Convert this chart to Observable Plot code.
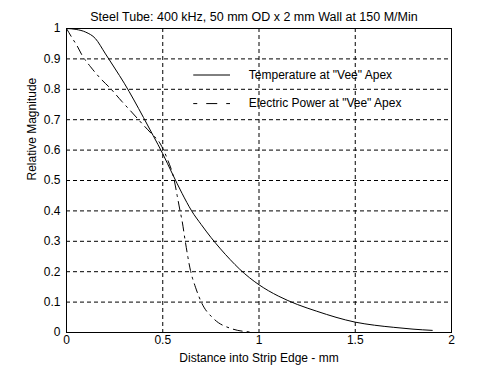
<!DOCTYPE html>
<html>
<head>
<meta charset="utf-8">
<script src="https://cdn.jsdelivr.net/npm/d3@7"></script>
<script src="https://cdn.jsdelivr.net/npm/@observablehq/plot@0.6"></script>
<style>
  html, body { margin: 0; padding: 0; background: #fff; }
</style>
</head>
<body>
<div id="chart"></div>
<script>
const titleText = "Steel Tube: 400 kHz, 50 mm OD x 2 mm Wall at 150 M/Min";
const xLabel = "Distance into Strip Edge - mm";
const yLabel = "Relative Magnitude";

const xTicks = [0, 0.5, 1, 1.5, 2];
const xTickLabels = ["0", "0.5", "1", "1.5", "2"];
const yTicks = [0, 0.1, 0.2, 0.3, 0.4, 0.5, 0.6, 0.7, 0.8, 0.9, 1];
const yTickLabels = ["0", "0.1", "0.2", "0.3", "0.4", "0.5", "0.6", "0.7", "0.8", "0.9", "1"];

const seriesNames = ["Temperature at \"Vee\" Apex", "Electric Power at \"Vee\" Apex"];

// Temperature at "Vee" apex
const tempX = [0, 0.05, 0.1, 0.15, 0.2, 0.25, 0.3, 0.35, 0.4, 0.45, 0.5, 0.55, 0.6, 0.65, 0.7, 0.75, 0.8, 0.85, 0.9, 1.0, 1.1, 1.2, 1.3, 1.4, 1.5, 1.6, 1.7, 1.8, 1.9];
const tempY = [1.0, 0.997, 0.988, 0.967, 0.919, 0.87, 0.82, 0.765, 0.707, 0.648, 0.588, 0.522, 0.458, 0.40, 0.355, 0.313, 0.275, 0.24, 0.208, 0.157, 0.12, 0.092, 0.07, 0.05, 0.034, 0.024, 0.017, 0.011, 0.007];

// Electric power at "Vee" apex
const powX = [0, 0.03, 0.055, 0.08, 0.125, 0.176, 0.228, 0.289, 0.33, 0.40, 0.44, 0.488, 0.523, 0.56, 0.575, 0.59, 0.60, 0.617, 0.644, 0.67, 0.704, 0.765, 0.86, 0.95];
const powY = [1.0, 0.968, 0.943, 0.913, 0.874, 0.836, 0.803, 0.759, 0.731, 0.682, 0.655, 0.62, 0.572, 0.50, 0.45, 0.40, 0.369, 0.30, 0.204, 0.149, 0.095, 0.045, 0.012, 0.002];

const tempData = tempX.map((x, i) => ({x, y: tempY[i]}));
const powData = powX.map((x, i) => ({x, y: powY[i]}));

const legendY = [0.847, 0.753];

const font = "'Liberation Sans', Arial, sans-serif";

const chart = Plot.plot({
  width: 500,
  height: 375,
  marginLeft: 66,
  marginRight: 49,
  marginTop: 28,
  marginBottom: 43,
  style: {fontFamily: font, fontSize: "12px", background: "white", color: "black", overflow: "visible"},
  x: {domain: [0, 2], ticks: xTicks, tickFormat: (d) => xTickLabels[xTicks.indexOf(d)], tickSize: 0, tickPadding: 3, label: null},
  y: {domain: [0, 1], ticks: yTicks, tickFormat: (d) => yTickLabels[yTicks.indexOf(d)], tickSize: 0, tickPadding: 6, label: null},
  marks: [
    Plot.ruleX(xTicks.slice(1, -1), {stroke: "black", strokeWidth: 1, strokeDasharray: "4,3"}),
    Plot.ruleY(yTicks.slice(1, -1), {stroke: "black", strokeWidth: 1, strokeDasharray: "4,3"}),
    Plot.line(tempData, {x: "x", y: "y", stroke: "black", strokeWidth: 1, curve: "monotone-x"}),
    Plot.line(powData, {x: "x", y: "y", stroke: "black", strokeWidth: 1, curve: "monotone-x", strokeDasharray: "9,5,2,5"}),
    Plot.ruleY([legendY[0]], {x1: 0.661, x2: 0.852, stroke: "black", strokeWidth: 1}),
    Plot.ruleY([legendY[1]], {x1: 0.661, x2: 0.852, stroke: "black", strokeWidth: 1, strokeDasharray: "4,9,11,9,4"}),
    Plot.text([seriesNames[0]], {y: legendY[0], x: 0.947, textAnchor: "start", fill: "black", fontSize: 12}),
    Plot.text([seriesNames[1]], {y: legendY[1], x: 0.947, textAnchor: "start", fill: "black", fontSize: 12}),
    Plot.frame({stroke: "black", strokeWidth: 1}),
    Plot.text([titleText], {frameAnchor: "top", dy: -16, dx: -5, fill: "black", fontSize: 12.5}),
    Plot.text([xLabel], {frameAnchor: "bottom", dy: 29, fill: "black", fontSize: 12}),
    Plot.text([yLabel], {frameAnchor: "left", dx: -34, rotate: -90, fill: "black", fontSize: 12})
  ]
});

document.getElementById("chart").appendChild(chart);
</script>
</body>
</html>
